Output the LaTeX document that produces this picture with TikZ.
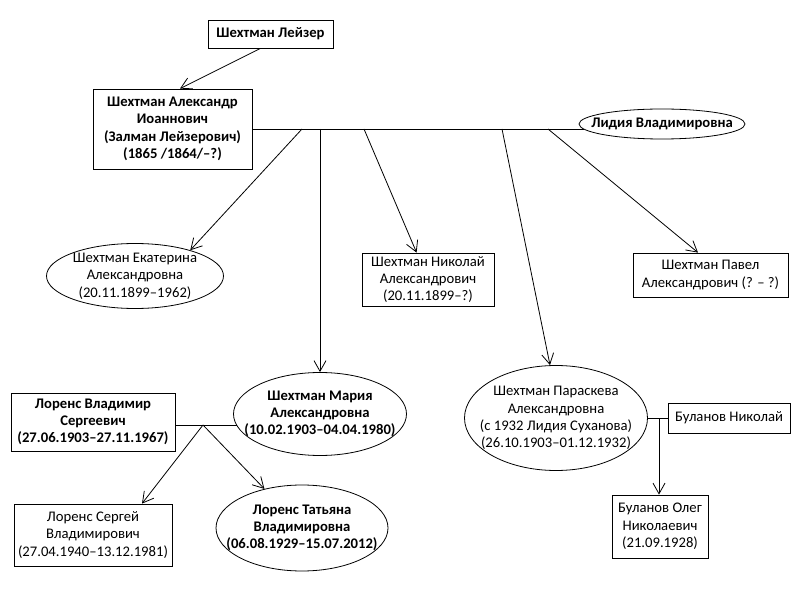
\documentclass[tikz,border=0pt]{standalone}
\usepackage{fontspec}
\setmainfont{Carlito}
\usetikzlibrary{shapes.geometric,arrows.meta}
\tikzset{
  every node/.style={font=\fontsize{11}{13}\selectfont, align=center},
  sz/.style 2 args={minimum width=#1*0.75pt, minimum height=#2*0.75pt},
  rbox/.style={draw, rectangle, inner sep=0pt, line width=0.6pt},
  ell/.style={draw, ellipse, inner sep=0pt, line width=0.6pt},
  lbl/.style={font=\fontsize{11}{13}\selectfont, align=center},
  bl/.style={font=\fontsize{11}{13}\selectfont\bfseries, align=center},
  conn/.style={line width=0.6pt},
  arr/.style={line width=0.6pt, -{Straight Barb[length=8pt,width=9pt]}}
}
\begin{document}
\begin{tikzpicture}[x=0.75pt,y=-0.75pt]
\useasboundingbox (0,0) rectangle (800,595);
% nodes
\node[rbox, bl, sz={125}{28}] (lej) at (270.5,34) {Шехтман Лейзер};
\node[rbox, bl, sz={159}{80}] (alex) at (172.5,129) {Шехтман Александр\\Иоаннович\\(Залман Лейзерович)\\(1865 /1864/–?)};
\node[ell, sz={166}{30}, label={[bl]center:Лидия Владимировна}] (lidia) at (662,124) {};
\node[ell, sz={177}{65}, label={[lbl]center:Шехтман Екатерина\\Александровна\\(20.11.1899–1962)}] (ekat) at (135,276) {};
\node[rbox, sz={132}{53}] (nik) at (428,279.5) {Шехтман Николай\\Александрович\\(20.11.1899–?)};
\node[rbox, sz={155}{44}] (pav) at (710.5,275) {Шехтман Павел\\Александрович (? – ?)};
\node[ell, sz={173}{83}, label={[bl]center:Шехтман Мария\\Александровна\\(10.02.1903–04.04.1980)}] (maria) at (320,414) {};
\node[ell, sz={183}{105}, label={[lbl]center:Шехтман Параскева\\Александровна\\(с 1932 Лидия Суханова)\\(26.10.1903–01.12.1932)}] (par) at (556,418) {};
\node[rbox, sz={122}{30}] (bul) at (729,418) {Буланов Николай};
\node[rbox, sz={96}{63}] (oleg) at (660,526.5) {Буланов Олег\\Николаевич\\(21.09.1928)};
\node[rbox, bl, sz={164}{58}] (lv) at (93,422) {Лоренс Владимир\\Сергеевич\\(27.06.1903–27.11.1967)};
\node[rbox, sz={158}{62}] (ser) at (93,535) {Лоренс Сергей\\Владимирович\\(27.04.1940–13.12.1981)};
\node[ell, sz={172}{86}, label={[bl]center:Лоренс Татьяна\\Владимировна\\(06.08.1929–15.07.2012)}] (tat) at (302,528) {};
% junction coordinates
\coordinate (s1) at (302,129);
\coordinate (s2) at (320,129);
\coordinate (s3) at (364,129);
\coordinate (s4) at (502,129);
\coordinate (s5) at (548,129);
\coordinate (j2) at (203,425);
\coordinate (j3) at (659,418);
% connectors
\draw[arr] ([shift={(-10,0)}]lej.south) -- ([shift={(7.5,0)}]alex.north);
\draw[conn] (alex.east) -- ([shift={(-78.3,5)}]lidia.center);
\draw[arr] (s1) -- (ekat.25);
\draw[arr] (s2) -- (maria.north);
\draw[arr] (s3) -- (nik);
\draw[arr] (s4) -- ([shift={(-6,0)}]par.north);
\draw[arr] (s5) -- ([shift={(-12.5,0)}]pav.north);
\draw[conn] (lv.east |- j2) -- ([shift={(-83.4,11)}]maria.center);
\draw[arr] (j2) -- ([shift={(49,0)}]ser.north);
\draw[arr] (j2) -- (tat);
\draw[conn] (par.east) -- (bul.west);
\draw[arr] (j3) -- (j3 |- oleg.north);
\end{tikzpicture}
\end{document}
